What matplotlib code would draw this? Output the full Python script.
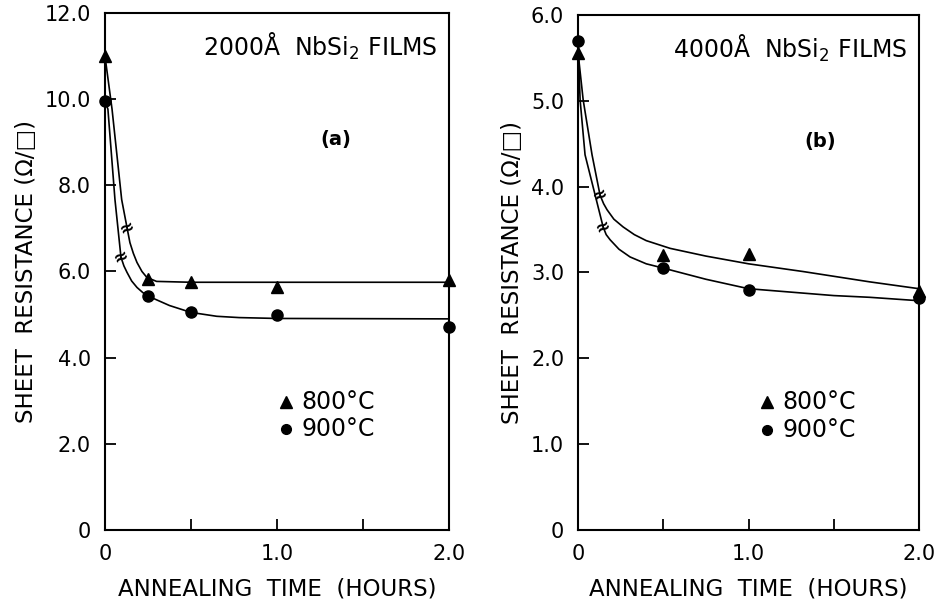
import matplotlib.pyplot as plt

# Measured points, panel (a): 2000 A films
hours_a = [0, 0.25, 0.5, 1.0, 2.0]
r800_a = [11.0, 5.83, 5.75, 5.63, 5.8]
r900_a = [9.95, 5.43, 5.05, 5.0, 4.72]

# Hand-drawn fit curves (before / after the break mark)
c800_a_pre_x = [0, 0.041, 0.097, 0.128]
c800_a_pre_y = [11.0, 9.77, 7.67, 7.02]
c800_a_post_x = [0.128, 0.145, 0.165, 0.186, 0.215, 0.244, 0.3, 0.5, 1.0, 2.0]
c800_a_post_y = [7.02, 6.67, 6.42, 6.21, 6.0, 5.86, 5.77, 5.75, 5.75, 5.75]
c900_a_pre_x = [0, 0.017, 0.058, 0.093]
c900_a_pre_y = [9.95, 9.77, 7.67, 6.33]
c900_a_post_x = [0.093, 0.11, 0.128, 0.155, 0.186, 0.22, 0.256, 0.375, 0.5, 0.65, 0.78, 1.0, 2.0]
c900_a_post_y = [6.33, 6.13, 5.98, 5.78, 5.63, 5.51, 5.42, 5.21, 5.05, 4.96, 4.93, 4.91, 4.9]
brk_a_x = [0.128, 0.093]
brk_a_y = [7.02, 6.33]

# Measured points, panel (b): 4000 A films
hours_b = [0, 0.5, 1.0, 2.0]
r800_b = [5.56, 3.2, 3.22, 2.78]
r900_b = [5.7, 3.05, 2.8, 2.7]

c800_b_pre_x = [0, 0.03, 0.082, 0.129]
c800_b_pre_y = [5.56, 5.01, 4.37, 3.90]
c800_b_post_x = [0.129, 0.15, 0.17, 0.21, 0.264, 0.33, 0.40, 0.54, 0.75, 1.0, 1.32, 1.71, 2.0]
c800_b_post_y = [3.90, 3.80, 3.73, 3.62, 3.53, 3.44, 3.37, 3.28, 3.19, 3.1, 3.01, 2.89, 2.81]
c900_b_pre_x = [0, 0.012, 0.041, 0.147]
c900_b_pre_y = [5.70, 5.01, 4.37, 3.53]
c900_b_post_x = [0.147, 0.165, 0.188, 0.24, 0.305, 0.4, 0.5, 0.75, 1.0, 1.25, 1.5, 1.71, 2.0]
c900_b_post_y = [3.53, 3.44, 3.38, 3.27, 3.18, 3.1, 3.05, 2.92, 2.81, 2.77, 2.73, 2.71, 2.67]
brk_b_x = [0.129, 0.147]
brk_b_y = [3.90, 3.53]

x_ticks = [0, 0.5, 1.0, 1.5, 2.0]
x_labels = ['0', '', '1.0', '', '2.0']
y_ticks_a = [0, 2, 4, 6, 8, 10, 12]
y_labels_a = ['0', '2.0', '4.0', '6.0', '8.0', '10.0', '12.0']
y_ticks_b = [0, 1, 2, 3, 4, 5, 6]
y_labels_b = ['0', '1.0', '2.0', '3.0', '4.0', '5.0', '6.0']

plt.rcParams['font.family'] = ['DejaVu Sans']

fig = plt.figure(figsize=(9.39, 6.05), dpi=100)
ax_a = fig.add_axes([0.1118, 0.124, 0.3664, 0.8545])
ax_b = fig.add_axes([0.6156, 0.124, 0.3632, 0.8515])

lw = 1.2


def setup(ax, yt, yl, ymax):
    ax.set_xlim(0, 2.0)
    ax.set_ylim(0, ymax)
    ax.set_xticks(x_ticks)
    ax.set_xticklabels(x_labels)
    ax.set_yticks(yt)
    ax.set_yticklabels(yl)
    ax.tick_params(direction='in', length=8, width=1.3, labelsize=15,
                   pad=10, top=False, right=False)
    for s in ax.spines.values():
        s.set_linewidth(1.5)
    ax.set_xlabel('ANNEALING  TIME  (HOURS)', fontsize=16.5, labelpad=10)
    ax.set_ylabel('SHEET  RESISTANCE (\u03a9/\u25a1)', fontsize=16.5, labelpad=5)


def panel(ax, h8, y8, h9, y9, c8, c9, bx, by, title, tag, tagx, legx):
    for xs, ys in c8 + c9:
        ax.plot(xs, ys, color='black', lw=lw, clip_on=False)
    ax.plot(h8, y8, '^', color='black', ms=9, clip_on=False)
    ax.plot(h9, y9, 'o', color='black', ms=8, clip_on=False)
    for x, y in zip(bx, by):
        ax.text(x, y, '\u2248', fontsize=13, fontweight='bold', rotation=25,
                ha='center', va='center')
    ax.text(0.965, 0.935, title, transform=ax.transAxes, fontsize=17,
            ha='right', va='center')
    ax.text(tagx, 0.755, tag, transform=ax.transAxes, fontsize=14,
            fontweight='bold', ha='center', va='center')
    ax.plot([legx], [0.248], '^', color='black', ms=8, transform=ax.transAxes)
    ax.plot([legx], [0.195], 'o', color='black', ms=7, transform=ax.transAxes)
    ax.text(legx + 0.045, 0.248, '800\u00b0C', transform=ax.transAxes,
            fontsize=17, va='center')
    ax.text(legx + 0.045, 0.195, '900\u00b0C', transform=ax.transAxes,
            fontsize=17, va='center')


setup(ax_a, y_ticks_a, y_labels_a, 12)
panel(ax_a, hours_a, r800_a, hours_a, r900_a,
      [(c800_a_pre_x, c800_a_pre_y), (c800_a_post_x, c800_a_post_y)],
      [(c900_a_pre_x, c900_a_pre_y), (c900_a_post_x, c900_a_post_y)],
      brk_a_x, brk_a_y, '2000\u00c5  NbSi$_2$ FILMS', '(a)', 0.67, 0.526)

setup(ax_b, y_ticks_b, y_labels_b, 6)
panel(ax_b, hours_b, r800_b, hours_b, r900_b,
      [(c800_b_pre_x, c800_b_pre_y), (c800_b_post_x, c800_b_post_y)],
      [(c900_b_pre_x, c900_b_pre_y), (c900_b_post_x, c900_b_post_y)],
      brk_b_x, brk_b_y, '4000\u00c5  NbSi$_2$ FILMS', '(b)', 0.71, 0.554)

fig.savefig('out.png', dpi=100)
